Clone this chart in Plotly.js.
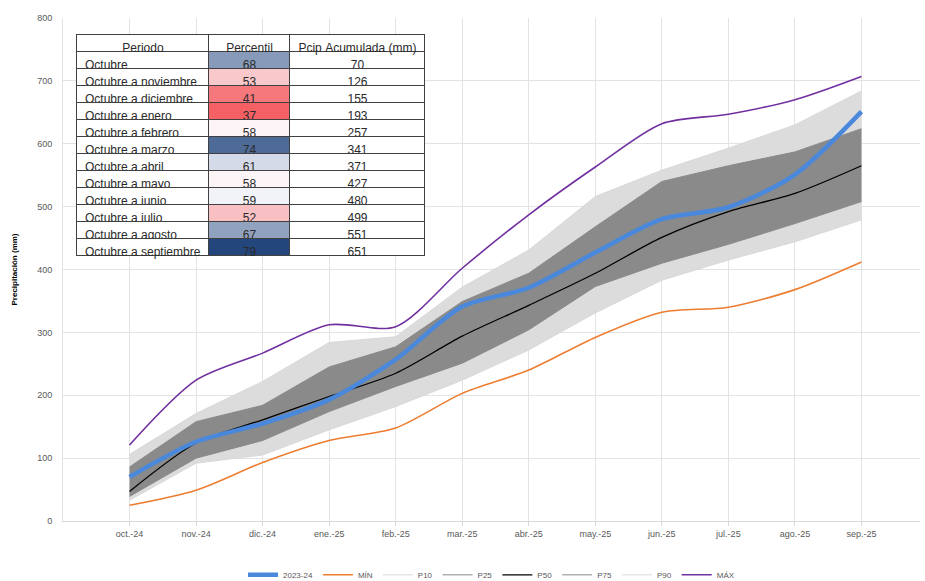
<!DOCTYPE html>
<html>
<head>
<meta charset="utf-8">
<script src="https://cdn.plot.ly/plotly-3.0.1.min.js"></script>
<style>html,body{margin:0;padding:0;background:#fff}#chart{width:925px;height:581px}</style>
</head>
<body>
<div id="chart"></div>
<script>
// ---- data ----
var months = ["oct.-24","nov.-24","dic.-24","ene.-25","feb.-25","mar.-25","abr.-25","may.-25","jun.-25","jul.-25","ago.-25","sep.-25"];
var obs2324 = [70,126,155,193,257,341,371,427,480,499,551,651];
var minVals = [25,49,93,128,148,203,240,292,332,340,368,412];
var p10 = [33,92,105,145,182,224,272,331,383,415,444,479];
var p25 = [39,100,128,174,214,251,304,373,410,440,473,508];
var p50 = [47,124,161,198,235,294,343,394,451,492,521,565];
var p75 = [86,158,184,245,277,349,394,468,540,565,587,624];
var p90 = [106,171,222,284,293,372,431,516,558,593,630,684];
var maxVals = [121,224,267,312,309,402,487,563,632,647,670,707];

var periods = ["Octubre","Octubre a noviembre","Octubre a diciembre","Octubre a enero","Octubre a febrero","Octubre a marzo","Octubre a abril","Octubre a mayo","Octubre a junio","Octubre a julio","Octubre a agosto","Octubre a septiembre"];
var percentil = [68,53,41,37,58,74,61,58,59,52,67,79];
var pcipAcum = [70,126,155,193,257,341,371,427,480,499,551,651];
var tableHeader = ["Periodo","Percentil","Pcip Acumulada (mm)"];

// ---- colour scale for percentile cells (3-colour scale) ----
function median(a){var s=a.slice().sort(function(x,y){return x-y});var n=s.length;return n%2?s[(n-1)/2]:(s[n/2-1]+s[n/2])/2;}
var lo=[244,96,100], mid=[252,252,255], hi=[35,70,125];
var pMin=Math.min.apply(null,percentil), pMax=Math.max.apply(null,percentil), pMid=median(percentil);
function mix(a,b,t){return 'rgb('+a.map(function(v,i){return Math.round(v+(b[i]-v)*t)}).join(',')+')';}
var pctColors = percentil.map(function(v){
  if(v<=pMid){return mix(mid,lo,Math.pow((pMid-v)/(pMid-pMin),0.8));}
  return mix(mid,hi,Math.pow((v-pMid)/(pMax-pMid),0.8));
});
function nb(s){return String(s).replace(/ /g,'\u00a0');}

var F = "Liberation Sans, Arial, sans-serif";
var traces = [];
// light band P10-P90
traces.push({x:months,y:p10,type:'scatter',mode:'lines',line:{width:0,color:'rgba(0,0,0,0)'},showlegend:false,hoverinfo:'skip'});
traces.push({x:months,y:p90,type:'scatter',mode:'lines',line:{width:0,color:'rgba(0,0,0,0)'},fill:'tonexty',fillcolor:'#dcdcdc',showlegend:false,hoverinfo:'skip'});
// dark band P25-P75
traces.push({x:months,y:p25,type:'scatter',mode:'lines',line:{width:0,color:'rgba(0,0,0,0)'},showlegend:false,hoverinfo:'skip'});
traces.push({x:months,y:p75,type:'scatter',mode:'lines',line:{width:0,color:'rgba(0,0,0,0)'},fill:'tonexty',fillcolor:'#8a8a8a',showlegend:false,hoverinfo:'skip'});
// percentile lines (legend entries)
traces.push({x:months,y:p10,name:'P10',type:'scatter',mode:'lines',line:{width:1,color:'#d9d9d9'},legendrank:3});
traces.push({x:months,y:p25,name:'P25',type:'scatter',mode:'lines',line:{width:1,color:'#8a8a8a'},legendrank:4});
traces.push({x:months,y:p75,name:'P75',type:'scatter',mode:'lines',line:{width:1,color:'#8a8a8a'},legendrank:6});
traces.push({x:months,y:p90,name:'P90',type:'scatter',mode:'lines',line:{width:1,color:'#d9d9d9'},legendrank:7});
traces.push({x:months,y:minVals,name:'MÍN',type:'scatter',mode:'lines',line:{width:1.6,color:'#ed7d31',shape:'spline',smoothing:0.8},legendrank:2});
traces.push({x:months,y:maxVals,name:'MÁX',type:'scatter',mode:'lines',line:{width:1.6,color:'#7030a0',shape:'spline',smoothing:0.8},legendrank:8});
traces.push({x:months,y:p50,name:'P50',type:'scatter',mode:'lines',line:{width:1.3,color:'#000000',shape:'spline',smoothing:0.8},legendrank:5});
traces.push({x:months,y:obs2324,name:'2023-24',type:'scatter',mode:'lines',line:{width:4.5,color:'#4a88dc',shape:'spline',smoothing:0.8},legendrank:1});

// table
traces.push({
  type:'table',
  domain:{x:[0.0163,0.4224],y:[0.46,0.967]},
  columnwidth:[132,81,135],
  header:{values:tableHeader.map(nb),align:'center',height:17,fill:{color:'#ffffff'},line:{color:'#404040',width:1},font:{family:F,size:12,color:'#2a2a2a'}},
  cells:{values:[periods.map(nb),percentil,pcipAcum],align:['left','center','center'],height:17,
         fill:{color:['#ffffff',pctColors,'#ffffff']},line:{color:'#404040',width:1},font:{family:F,size:12,color:'#2a2a2a'}}
});

var layout = {
  width:925,height:581,
  margin:{l:63,r:5,t:18,b:60,autoexpand:false},
  paper_bgcolor:'#ffffff',plot_bgcolor:'#ffffff',
  font:{family:F,size:9,color:'#595959'},
  showlegend:true,
  legend:{orientation:'h',x:0.5,xanchor:'center',y:-0.107,yanchor:'middle',font:{family:F,size:8,color:'#595959'},itemwidth:30,tracegroupgap:0,traceorder:'normal'},
  xaxis:{type:'category',range:[-1,11.88],showgrid:true,gridcolor:'#e3e3e3',gridwidth:1,ticks:'outside',ticklen:4,tickcolor:'#d9d9d9',
         showline:true,linecolor:'#d9d9d9',tickfont:{family:F,size:9,color:'#595959'},zeroline:false,fixedrange:true,automargin:false},
  yaxis:{range:[0,800],dtick:100,showgrid:true,gridcolor:'#e3e3e3',gridwidth:1,showline:true,linecolor:'#e3e3e3',zeroline:false,
         ticks:'',ticklabelstandoff:8,tickfont:{family:F,size:9,color:'#595959'},
         title:{text:'<b>Precipitación (mm)</b>',font:{family:F,size:8,color:'#000'},standoff:18},automargin:false,fixedrange:true}
};
Plotly.newPlot('chart',traces,layout,{displayModeBar:false,staticPlot:true});
</script>
</body>
</html>
